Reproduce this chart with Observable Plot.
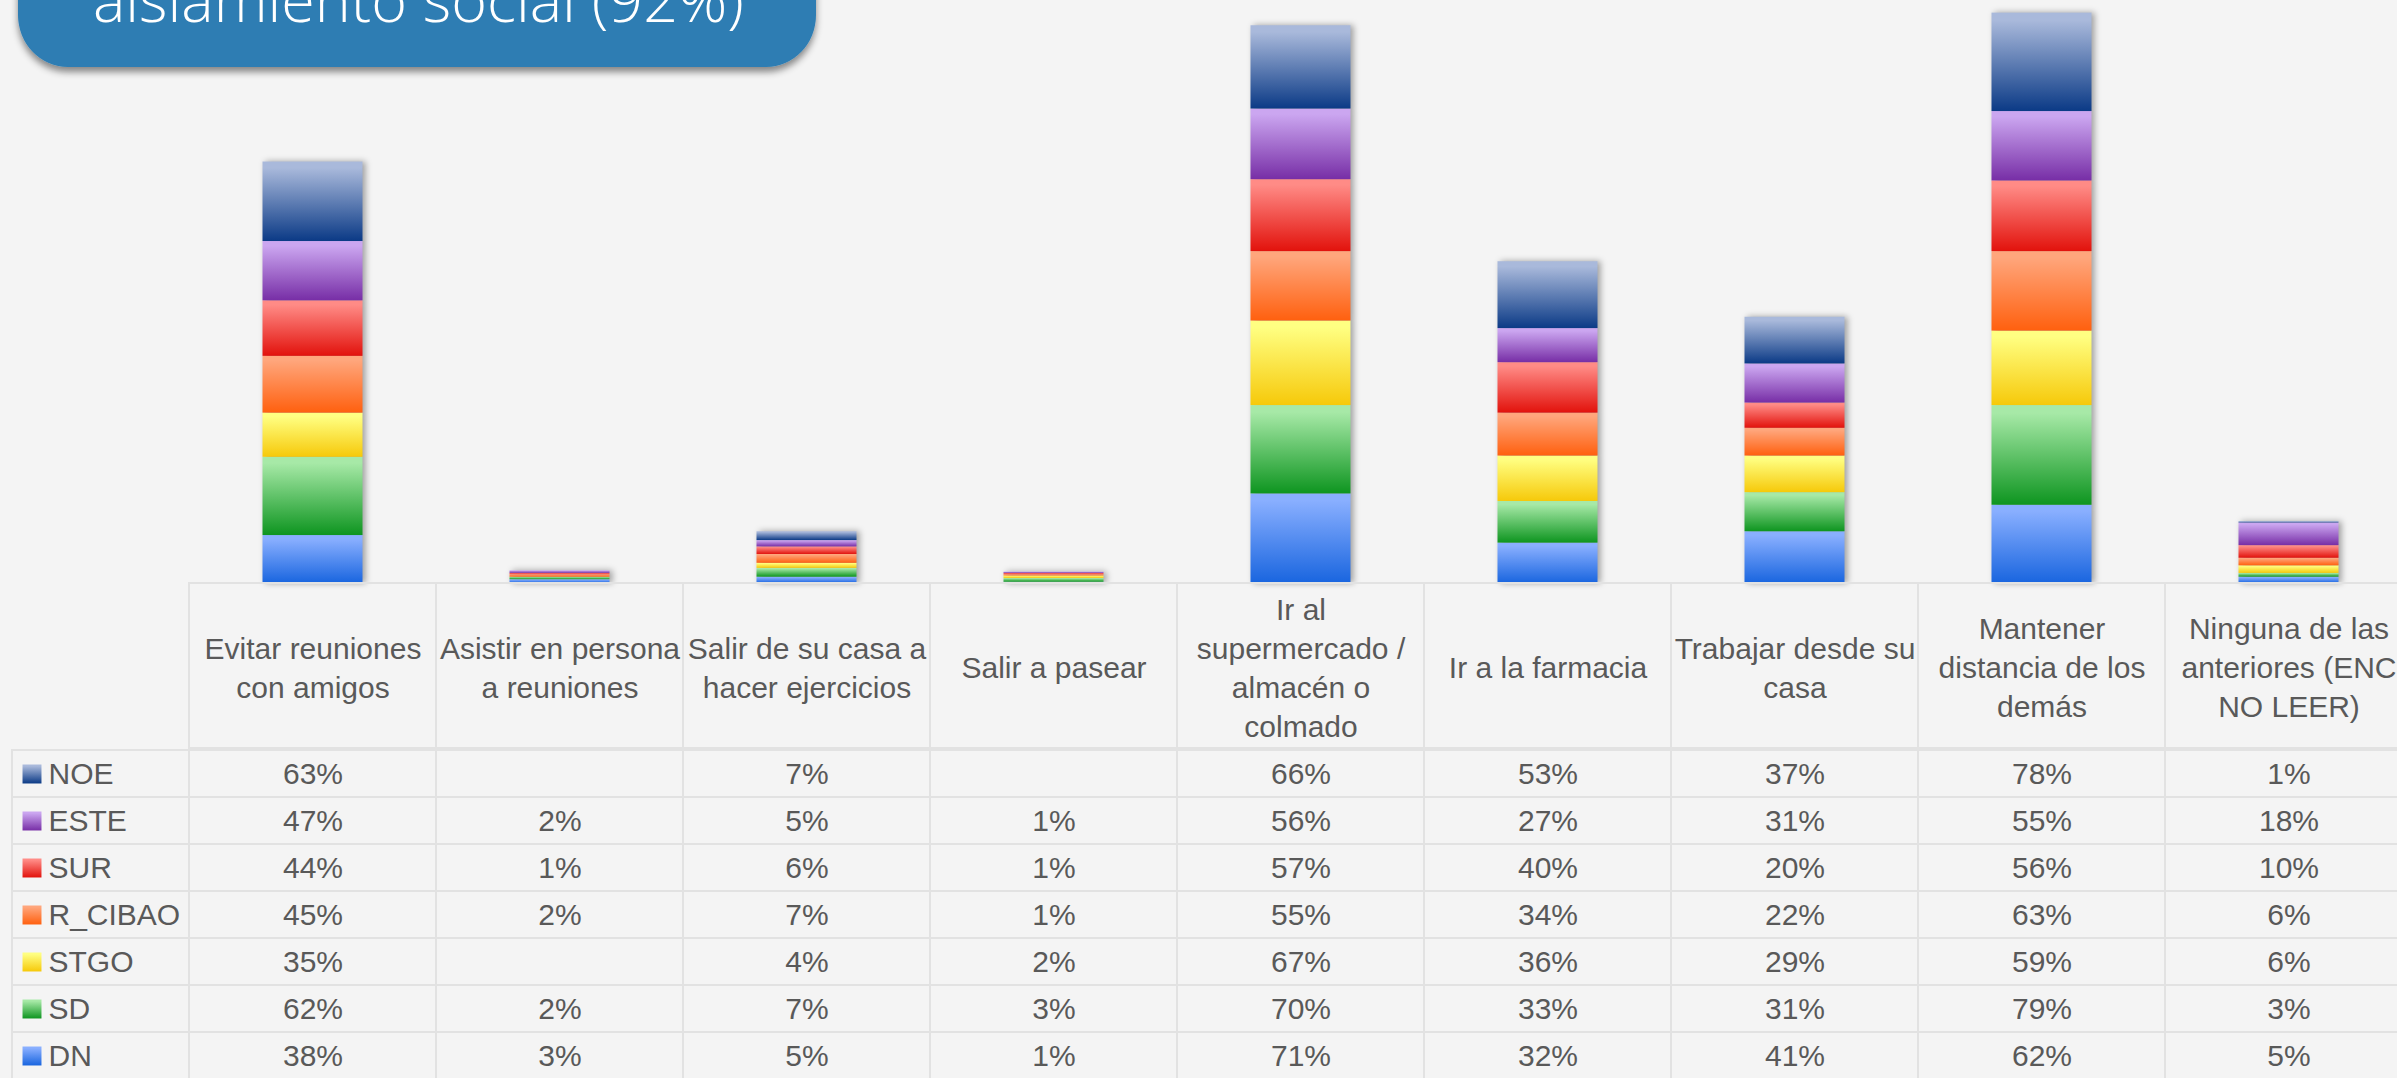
<!DOCTYPE html>
<html><head><meta charset="utf-8">
<script src="https://cdn.jsdelivr.net/npm/d3@7"></script>
<script src="https://cdn.jsdelivr.net/npm/@observablehq/plot@0.6"></script>
<style>
html,body{margin:0;padding:0;background:#F4F4F4;overflow:hidden;}
#wrap{position:relative;width:2397px;height:1078px;overflow:hidden;background:#F4F4F4;}
.layer{position:absolute;left:0;width:2412px;}
.layer svg{display:block;max-width:none !important;}
</style>
</head><body>
<div id="wrap">
  <div class="layer" id="bars" style="top:0px"></div>
  <div class="layer" id="header" style="top:582px"></div>
  <div class="layer" id="table" style="top:747px"></div>
  <svg id="title" style="position:absolute;left:0;top:0;z-index:5" width="860" height="90">
    <defs>
      <filter id="tshadow" x="-10%" y="-10%" width="120%" height="140%">
        <feDropShadow dx="0" dy="5" stdDeviation="3.5" flood-color="#000" flood-opacity="0.45"/>
      </filter>
    </defs>
    <rect x="18" y="-110" width="798" height="177" rx="50" ry="52" fill="#2D7DB3" filter="url(#tshadow)"/>
    <text x="93" y="22" fill="#ffffff" font-family="Open Sans" font-weight="300" font-size="61">aislamiento social (92%)</text>
  </svg>
</div>
<script>
// ---- data ----
const categories = [
  "Evitar reuniones con amigos",
  "Asistir en persona a reuniones",
  "Salir de su casa a hacer ejercicios",
  "Salir a pasear",
  "Ir al supermercado / almacén o colmado",
  "Ir a la farmacia",
  "Trabajar desde su casa",
  "Mantener distancia de los demás",
  "Ninguna de las anteriores (ENC NO LEER)"
];
const headerLabels = [
  "Evitar reuniones\ncon amigos",
  "Asistir en persona\na reuniones",
  "Salir de su casa a\nhacer ejercicios",
  "Salir a pasear",
  "Ir al\nsupermercado /\nalmacén o\ncolmado",
  "Ir a la farmacia",
  "Trabajar desde su\ncasa",
  "Mantener\ndistancia de los\ndemás",
  "Ninguna de las\nanteriores (ENC\nNO LEER)"
];
const series = ["NOE", "ESTE", "SUR", "R_CIBAO", "STGO", "SD", "DN"];
const NOE     = [63, null, 7, null, 66, 53, 37, 78, 1];
const ESTE    = [47, 2, 5, 1, 56, 27, 31, 55, 18];
const SUR     = [44, 1, 6, 1, 57, 40, 20, 56, 10];
const R_CIBAO = [45, 2, 7, 1, 55, 34, 22, 63, 6];
const STGO    = [35, null, 4, 2, 67, 36, 29, 59, 6];
const SD      = [62, 2, 7, 3, 70, 33, 31, 79, 3];
const DN      = [38, 3, 5, 1, 71, 32, 41, 62, 5];

// ---- styles ----
const gradientStops = {
  NOE:     ["#A9B9DB", "#0B3A86"],
  ESTE:    ["#CBA6F0", "#772EA6"],
  SUR:     ["#FF8B86", "#E2120C"],
  R_CIBAO: ["#FFA67C", "#FF600F"],
  STGO:    ["#FFFF82", "#F6C90A"],
  SD:      ["#A7E9A7", "#0E9520"],
  DN:      ["#89AFFF", "#1965DF"]
};
const gridColor = "#E2E2E2";
const textColor = "#595959";

const valuesBySeries = {NOE, ESTE, SUR, R_CIBAO, STGO, SD, DN};

// gradients
const defsSvg = d3.select("#wrap").append("svg")
  .attr("width", 0).attr("height", 0)
  .style("position", "absolute").style("left", 0).style("top", 0);
const defs = defsSvg.append("defs");
for (const s of series) {
  const g = defs.append("linearGradient").attr("id", "grad-" + s)
    .attr("x1", 0).attr("y1", 0).attr("x2", 0).attr("y2", 1);
  g.append("stop").attr("offset", "0%").attr("stop-color", gradientStops[s][0]);
  g.append("stop").attr("offset", "8%").attr("stop-color", gradientStops[s][0]);
  g.append("stop").attr("offset", "100%").attr("stop-color", gradientStops[s][1]);
}

const colorScale = {type: "ordinal", domain: series, range: series.map(s => `url(#grad-${s})`)};

// bar data stacked bottom (DN) to top (NOE)
const barData = [];
for (const s of series.slice().reverse()) {
  categories.forEach((c, i) => {
    const v = valuesBySeries[s][i];
    if (v != null) barData.push({cat: c, series: s, v});
  });
}
const tableData = [];
for (const s of series) {
  categories.forEach((c, i) => tableData.push({cat: c, series: s, v: valuesBySeries[s][i]}));
}

const baseStyle = {background: "transparent", color: textColor, fontFamily: "'Liberation Sans', Arial, sans-serif", overflow: "visible", maxWidth: "none"};

// ---- bars ----
const plotBars = Plot.plot({
  width: 2412, height: 583,
  marginTop: 0, marginBottom: 0, marginLeft: 188, marginRight: 0,
  x: {domain: categories, padding: 0, axis: null},
  y: {domain: [0, 462], axis: null},
  color: colorScale,
  style: baseStyle,
  marks: [
    Plot.barY(barData, {x: "cat", y: "v", fill: "series", insetLeft: 73.5, insetRight: 73.5})
  ]
});
d3.select(plotBars).selectAll('g[aria-label="bar"]').style("filter", "drop-shadow(3px 0px 3px rgba(0,0,0,0.35))");
document.getElementById("bars").appendChild(plotBars);

// ---- header row ----
const plotHeader = Plot.plot({
  width: 2412, height: 167,
  marginTop: 1, marginBottom: 1, marginLeft: 188, marginRight: 0,
  x: {domain: categories, padding: 0, axis: null},
  style: baseStyle,
  marks: [
    Plot.cell(categories, {x: d => d, fill: "none", stroke: gridColor, strokeWidth: 2, inset: 0}),
    Plot.text(categories, {x: d => d, text: (d, i) => headerLabels[i], frameAnchor: "middle",
      lineAnchor: "middle", lineHeight: 1.3, fontSize: 30, fill: textColor})
  ]
});
document.getElementById("header").appendChild(plotHeader);

// ---- data table ----
const rowH = 47.67;
const plotTable = Plot.plot({
  width: 2412, height: 340,
  marginTop: 1, marginBottom: 0, marginLeft: 12, marginRight: 0,
  x: {domain: categories, range: [188, 2412], padding: 0, axis: null},
  y: {domain: series, range: [1, 1 + series.length * rowH], padding: 0, axis: null},
  color: colorScale,
  style: baseStyle,
  marks: [
    Plot.cell(series, {y: d => d, fill: "none", stroke: gridColor, strokeWidth: 2, inset: 0}),
    Plot.cell(tableData, {x: "cat", y: "series", fill: "none", stroke: gridColor, strokeWidth: 2, inset: 0}),
    Plot.text(tableData.filter(d => d.v != null), {x: "cat", y: "series", text: d => d.v + "%", fontSize: 30, fill: textColor}),
    Plot.dot(series, {y: d => d, frameAnchor: "left", dx: 19.5, symbol: "square", r: 10.7, fill: d => d, stroke: "none"}),
    Plot.text(series, {y: d => d, frameAnchor: "left", dx: 36, textAnchor: "start", text: d => d, fontSize: 30, fill: textColor})
  ]
});
document.getElementById("table").appendChild(plotTable);
</script>
</body></html>
